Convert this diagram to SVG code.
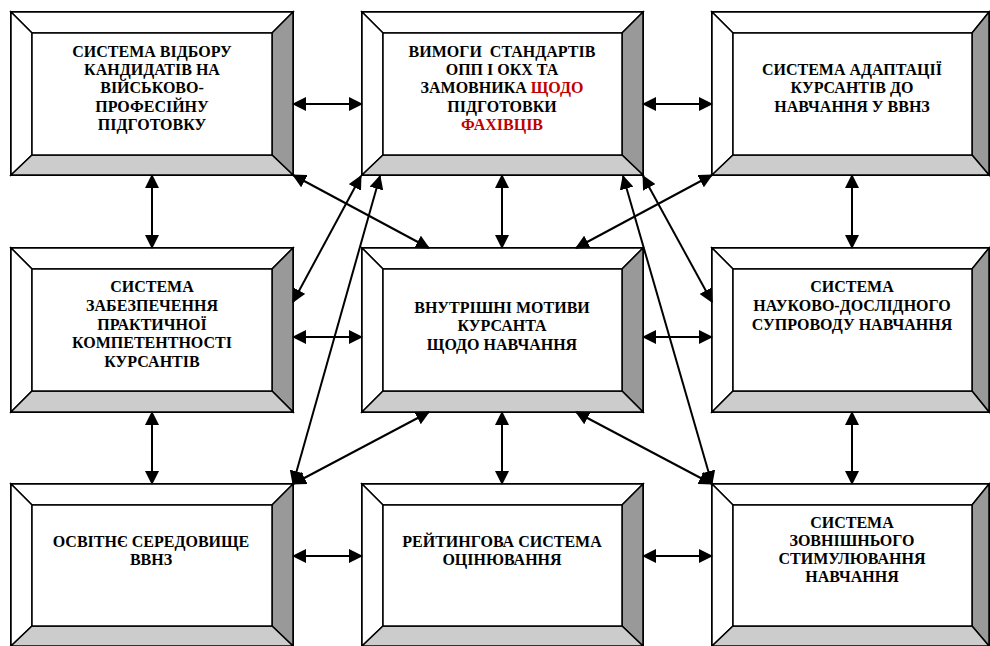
<svg xmlns="http://www.w3.org/2000/svg" width="990" height="646" viewBox="0 0 990 646">
<style>
.o{fill:#fff;stroke:#000;stroke-width:2}
.w{fill:#fff;stroke:#000;stroke-width:1.5;stroke-linejoin:miter}
.d{fill:#999;stroke:#000;stroke-width:1.5}
.l{fill:#ccc;stroke:#000;stroke-width:1.5}
.i{fill:#fff;stroke:#000;stroke-width:1.5}
.t{font-weight:bold;font-size:16px;text-anchor:middle;fill:#000}
.r{fill:#c00000}
.c line{stroke:#000;stroke-width:2;marker-start:url(#ah);marker-end:url(#ah)}
</style>
<defs>
<marker id="ah" markerUnits="userSpaceOnUse" markerWidth="14" markerHeight="14" viewBox="0 0 14 14" refX="13" refY="7" orient="auto-start-reverse">
<path d="M0,0 L14,7 L0,14 z" fill="#000"/>
</marker>
</defs>
<rect width="990" height="646" fill="#fff"/>

<g id="n1">
<rect class="o" x="11" y="12" width="282" height="163"/>
<polygon class="w" points="11,12 293,12 272,33 32,33"/>
<polygon class="w" points="11,12 32,33 32,155 11,175"/>
<polygon class="d" points="293,12 293,175 272,155 272,33"/>
<polygon class="l" points="11,175 32,155 272,155 293,175"/>
<rect class="i" x="32" y="33" width="240" height="122"/>
<g class="t" font-family="Liberation Serif, Times New Roman, serif">
<text x="152" y="57">СИСТЕМА ВІДБОРУ</text>
<text x="152" y="75">КАНДИДАТІВ НА</text>
<text x="152" y="93">ВІЙСЬКОВО-</text>
<text x="152" y="112">ПРОФЕСІЙНУ</text>
<text x="152" y="130">ПІДГОТОВКУ</text>
</g>
</g>

<g id="n2">
<rect class="o" x="362" y="12" width="281" height="163"/>
<polygon class="w" points="362,12 643,12 622,33 383,33"/>
<polygon class="w" points="362,12 383,33 383,155 362,175"/>
<polygon class="d" points="643,12 643,175 622,155 622,33"/>
<polygon class="l" points="362,175 383,155 622,155 643,175"/>
<rect class="i" x="383" y="33" width="239" height="122"/>
<g class="t" font-family="Liberation Serif, Times New Roman, serif">
<text x="502" y="57">ВИМОГИ&#160; СТАНДАРТІВ</text>
<text x="502" y="75">ОПП І ОКХ ТА</text>
<text x="502" y="93">ЗАМОВНИКА <tspan class="r">ЩОДО</tspan></text>
<text x="502" y="112">ПІДГОТОВКИ</text>
<text x="502" y="130" class="r">ФАХІВЦІВ</text>
</g>
</g>

<g id="n3">
<rect class="o" x="712" y="12" width="277" height="163"/>
<polygon class="w" points="712,12 989,12 972,33 733,33"/>
<polygon class="w" points="712,12 733,33 733,155 712,175"/>
<polygon class="d" points="989,12 989,175 972,155 972,33"/>
<polygon class="l" points="712,175 733,155 972,155 989,175"/>
<rect class="i" x="733" y="33" width="239" height="122"/>
<g class="t" font-family="Liberation Serif, Times New Roman, serif">
<text x="852" y="75">СИСТЕМА АДАПТАЦІЇ</text>
<text x="852" y="93">КУРСАНТІВ ДО</text>
<text x="852" y="112">НАВЧАННЯ У ВВНЗ</text>
</g>
</g>

<g id="n4">
<rect class="o" x="11" y="248" width="282" height="164"/>
<polygon class="w" points="11,248 293,248 272,269 32,269"/>
<polygon class="w" points="11,248 32,269 32,391 11,412"/>
<polygon class="d" points="293,248 293,412 272,391 272,269"/>
<polygon class="l" points="11,412 32,391 272,391 293,412"/>
<rect class="i" x="32" y="269" width="240" height="122"/>
<g class="t" font-family="Liberation Serif, Times New Roman, serif">
<text x="152" y="292">СИСТЕМА</text>
<text x="152" y="311">ЗАБЕЗПЕЧЕННЯ</text>
<text x="152" y="330">ПРАКТИЧНОЇ</text>
<text x="152" y="348">КОМПЕТЕНТНОСТІ</text>
<text x="152" y="367">КУРСАНТІВ</text>
</g>
</g>

<g id="n5">
<rect class="o" x="362" y="248" width="281" height="164"/>
<polygon class="w" points="362,248 643,248 622,269 383,269"/>
<polygon class="w" points="362,248 383,269 383,391 362,412"/>
<polygon class="d" points="643,248 643,412 622,391 622,269"/>
<polygon class="l" points="362,412 383,391 622,391 643,412"/>
<rect class="i" x="383" y="269" width="239" height="122"/>
<g class="t" font-family="Liberation Serif, Times New Roman, serif">
<text x="502" y="313">ВНУТРІШНІ МОТИВИ</text>
<text x="502" y="331">КУРСАНТА</text>
<text x="502" y="350">ЩОДО НАВЧАННЯ</text>
</g>
</g>

<g id="n6">
<rect class="o" x="712" y="248" width="277" height="164"/>
<polygon class="w" points="712,248 989,248 972,269 733,269"/>
<polygon class="w" points="712,248 733,269 733,391 712,412"/>
<polygon class="d" points="989,248 989,412 972,391 972,269"/>
<polygon class="l" points="712,412 733,391 972,391 989,412"/>
<rect class="i" x="733" y="269" width="239" height="122"/>
<g class="t" font-family="Liberation Serif, Times New Roman, serif">
<text x="852" y="292">СИСТЕМА</text>
<text x="852" y="311">НАУКОВО-ДОСЛІДНОГО</text>
<text x="852" y="330">СУПРОВОДУ НАВЧАННЯ</text>
</g>
</g>

<g id="n7">
<rect class="o" x="11" y="484" width="282" height="162"/>
<polygon class="w" points="11,484 293,484 272,505 32,505"/>
<polygon class="w" points="11,484 32,505 32,626 11,646"/>
<polygon class="d" points="293,484 293,646 272,626 272,505"/>
<polygon class="l" points="11,646 32,626 272,626 293,646"/>
<rect class="i" x="32" y="505" width="240" height="121"/>
<g class="t" font-family="Liberation Serif, Times New Roman, serif">
<text x="151" y="547">ОСВІТНЄ СЕРЕДОВИЩЕ</text>
<text x="151" y="565">ВВНЗ</text>
</g>
</g>

<g id="n8">
<rect class="o" x="362" y="484" width="281" height="162"/>
<polygon class="w" points="362,484 643,484 622,505 383,505"/>
<polygon class="w" points="362,484 383,505 383,626 362,646"/>
<polygon class="d" points="643,484 643,646 622,626 622,505"/>
<polygon class="l" points="362,646 383,626 622,626 643,646"/>
<rect class="i" x="383" y="505" width="239" height="121"/>
<g class="t" font-family="Liberation Serif, Times New Roman, serif">
<text x="502" y="547">РЕЙТИНГОВА СИСТЕМА</text>
<text x="502" y="565">ОЦІНЮВАННЯ</text>
</g>
</g>

<g id="n9">
<rect class="o" x="712" y="484" width="277" height="162"/>
<polygon class="w" points="712,484 989,484 972,505 733,505"/>
<polygon class="w" points="712,484 733,505 733,626 712,646"/>
<polygon class="d" points="989,484 989,646 972,626 972,505"/>
<polygon class="l" points="712,646 733,626 972,626 989,646"/>
<rect class="i" x="733" y="505" width="239" height="121"/>
<g class="t" font-family="Liberation Serif, Times New Roman, serif">
<text x="852" y="528">СИСТЕМА</text>
<text x="852" y="546">ЗОВНІШНЬОГО</text>
<text x="852" y="564">СТИМУЛЮВАННЯ</text>
<text x="852" y="582">НАВЧАННЯ</text>
</g>
</g>

<g id="connectors" class="c">
<line x1="293" y1="104" x2="362" y2="104"/>
<line x1="643" y1="104" x2="712" y2="104"/>
<line x1="293" y1="337" x2="362" y2="337"/>
<line x1="643" y1="337" x2="712" y2="337"/>
<line x1="293" y1="556" x2="362" y2="556"/>
<line x1="643" y1="556" x2="712" y2="556"/>
<line x1="152" y1="175" x2="152" y2="248"/>
<line x1="502" y1="175" x2="502" y2="248"/>
<line x1="852" y1="175" x2="852" y2="248"/>
<line x1="152" y1="412" x2="152" y2="484"/>
<line x1="502" y1="412" x2="502" y2="484"/>
<line x1="852" y1="412" x2="852" y2="484"/>
<line x1="293" y1="175" x2="429" y2="248"/>
<line x1="361" y1="176" x2="293" y2="302"/>
<line x1="380" y1="176" x2="293" y2="484"/>
<line x1="429" y1="412" x2="293" y2="484"/>
<line x1="643" y1="176" x2="712" y2="302"/>
<line x1="623" y1="176" x2="712" y2="484"/>
<line x1="712" y1="175" x2="576" y2="248"/>
<line x1="576" y1="412" x2="712" y2="484"/>
</g>
</svg>
